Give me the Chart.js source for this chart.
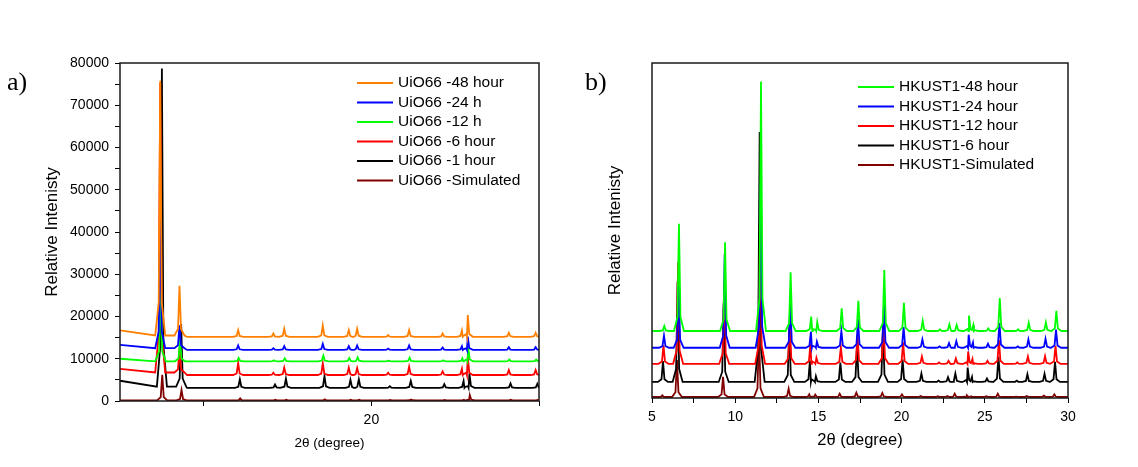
<!DOCTYPE html>
<html lang="en">
<head>
<meta charset="utf-8">
<title>XRD patterns: UiO66 and HKUST1</title>
<script src="https://cdn.jsdelivr.net/npm/chart.js"></script>
<style>
  body { margin: 0; background: #fff; width: 1138px; height: 467px; position: relative; overflow: hidden; }
  .panel { position: absolute; top: 0; height: 467px; }
  #wrapA { left: 0; width: 560px; }
  #wrapB { left: 560px; width: 578px; }
  .tag { position: absolute; font-family: "Liberation Serif", "Times New Roman", serif; font-size: 26px; color: #000; }
</style>
</head>
<body>
<div class="panel" id="wrapA"><canvas id="chartA"></canvas></div>
<div class="panel" id="wrapB"><canvas id="chartB"></canvas></div>
<div class="tag" style="left:7px;top:67px">a)</div>
<div class="tag" style="left:585px;top:67px">b)</div>

<script>
// ---------- panel a) UiO66 ----------
const uioLabels = ['UiO66 -48 hour', 'UiO66 -24 h', 'UiO66 -12 h', 'UiO66 -6 hour', 'UiO66 -1 hour', 'UiO66 -Simulated'];
const uioColors = ['#ff8000', '#0000ff', '#00ff00', '#ff0000', '#000000', '#800000'];
// peak positions (2theta, degree)
const uioPeaks = [7.4, 8.55, 12.05, 14.15, 14.8, 17.1, 18.65, 19.15, 21.0, 22.25, 24.25, 25.4, 25.75, 28.2, 29.8];
// small offset of each pattern along 2theta
const uioShift = [0, 0, 0.03, 0, 0.1, 0.12];
// baseline points [2theta, counts]
const uioBase48 = [[5, 16700], [7.1, 15500], [9, 15200], [30, 15200]];
const uioBase24 = [[5, 13300], [7.1, 12500], [9, 12100], [30, 12100]];
const uioBase12 = [[5, 10000], [7.1, 9400], [9, 9400], [30, 9400]];
const uioBase6 = [[5, 7600], [7.1, 6750], [9, 6150], [30, 6150]];
const uioBase1 = [[5, 4800], [7.2, 3400], [9, 3100], [30, 3100]];
const uioBaseSim = [[5, 150], [30, 150]];
// peak heights above baseline (counts)
const uioH48 = [60300, 11800, 1580, 790, 1900, 2680, 1580, 1900, 400, 1580, 790, 1500, 5130, 950, 950];
const uioH24 = [30300, 5400, 1030, 400, 870, 1420, 870, 1030, 300, 1030, 550, 870, 3160, 630, 630];
const uioH12 = [18600, 5100, 790, 240, 710, 1340, 790, 950, 160, 870, 240, 710, 3240, 400, 400];
const uioH6 = [68500, 5800, 2840, 550, 1740, 2760, 1740, 1660, 550, 1970, 870, 1500, 4340, 1180, 1180];
const uioH1 = [75300, 14800, 2050, 790, 2210, 2760, 1900, 2050, 400, 1660, 870, 1660, 3390, 1030, 950];
const uioHSim = [6050, 2450, 470, 150, 150, 250, 150, 150, 100, 200, 100, 150, 1260, 160, 100];

// ---------- panel b) HKUST1 ----------
const hkLabels = ['HKUST1-48 hour', 'HKUST1-24 hour', 'HKUST1-12 hour', 'HKUST1-6 hour', 'HKUST1-Simulated'];
const hkColors = ['#00ff00', '#0000ff', '#ff0000', '#000000', '#800000'];
const hkPeaks = [5.74, 6.62, 9.39, 11.55, 13.33, 14.57, 14.93, 16.4, 17.4, 18.96, 20.14, 21.27, 22.3, 22.87, 23.31, 24.05, 24.31, 25.21, 25.9, 27.0, 27.64, 28.67, 29.3];
const hkShift = [0, -0.02, -0.05, -0.08, -0.12];
// baselines (relative units)
const hkBase48 = [[5, 20], [30, 20]];
const hkBase24 = [[5, 15], [30, 15]];
const hkBase12 = [[5, 10.2], [30, 10.2]];
const hkBase6 = [[5, 4.8], [30, 4.8]];
const hkBaseSim = [[5, 0.3], [30, 0.3]];
const hkH48 = [1.5, 32, 26.5, 74.5, 17.5, 4.3, 2.7, 6.8, 9.0, 18.2, 8.4, 3.0, 0.5, 2.0, 1.8, 4.6, 1.8, 0.8, 9.8, 0.5, 2.5, 2.6, 6.0];
const hkH24 = [3.6, 18.5, 28, 49, 13.8, 4.8, 1.8, 5.0, 8.5, 13.0, 6.2, 2.5, 0.4, 1.4, 2.0, 3.9, 1.6, 1.2, 7.4, 0.4, 2.5, 2.7, 5.4];
const hkH12 = [5.5, 30.5, 24, 42, 13, 6, 1.8, 5, 8.6, 13.5, 6.4, 2.2, 0.4, 0.9, 1.6, 3.7, 1.5, 0.9, 7.1, 0.4, 2.2, 2.3, 5.4];
const hkH6 = [6.2, 30, 23.5, 74.6, 16, 6.3, 1.7, 5.8, 11, 17, 6.7, 2.5, 0.4, 1.4, 2.5, 4.3, 1.5, 1.0, 7.6, 0.4, 2.3, 2.4, 6.0];
const hkHSim = [0.5, 11, 6, 20, 2.5, 0.8, 0.7, 1.0, 1.3, 1.2, 0.8, 0.3, 0.2, 0.3, 1.0, 0.5, 0.2, 0.2, 1.0, 0.1, 0.3, 0.4, 0.8];

const FONT = '"Liberation Sans", Arial, sans-serif';

// baseline points plus one narrow profile per peak
function buildPattern(base, peaks, shift, heights, hw) {
    const pts = base.map(b => ({x: b[0], y: b[1]}));
    peaks.forEach((p, i) => {
        const x = p + shift;
        let y0 = base[0][1];
        base.forEach(b => { if (b[0] <= x) y0 = b[1]; });
        const h = heights[i];
        pts.push({x: x - hw, y: y0});
        pts.push({x: x - hw * 0.3, y: y0 + h * 0.13});
        pts.push({x: x, y: y0 + h});
        pts.push({x: x + hw * 0.3, y: y0 + h * 0.13});
        pts.push({x: x + hw, y: y0});
    });
    return pts.sort((a, b) => a.x - b.x);
}

function makeSets(labels, colors, bases, heights, peaks, shifts, hw) {
    return labels.map((lab, i) => ({
        label: lab,
        data: buildPattern(bases[i], peaks, shifts[i], heights[i], hw),
        borderColor: colors[i],
        borderWidth: 1.8,
        pointRadius: 0,
        tension: 0,
        fill: false
    }));
}

// legend inside the plot and the closed frame
const framePlugin = {
    id: 'frameLegend',
    afterDatasetsDraw(chart, args, opts) {
        const ctx = chart.ctx;
        const a = chart.chartArea;
        ctx.save();
        ctx.strokeStyle = '#1a1a1a';
        ctx.lineWidth = 1.5;
        ctx.strokeRect(a.left, a.top, a.right - a.left, a.bottom - a.top);
        ctx.font = '15.5px ' + FONT;
        ctx.textBaseline = 'middle';
        chart.data.datasets.forEach((ds, i) => {
            const y = opts.y + i * opts.step;
            ctx.strokeStyle = ds.borderColor;
            ctx.lineWidth = 2;
            ctx.beginPath();
            ctx.moveTo(opts.x, y);
            ctx.lineTo(opts.x + 36, y);
            ctx.stroke();
            ctx.fillStyle = '#000';
            ctx.fillText(ds.label, opts.x + 41, y);
        });
        ctx.restore();
    }
};

Chart.defaults.font.family = FONT;
Chart.defaults.color = '#000';
Chart.defaults.animation = false;

const tickGrid = {drawOnChartArea: false, drawTicks: true, tickLength: 5, color: '#000', lineWidth: 1};

new Chart(document.getElementById('chartA'), {
    type: 'line',
    data: {
        datasets: makeSets(uioLabels, uioColors,
            [uioBase48, uioBase24, uioBase12, uioBase6, uioBase1, uioBaseSim],
            [uioH48, uioH24, uioH12, uioH6, uioH1, uioHSim],
            uioPeaks, uioShift, 0.3)
    },
    options: {
        responsive: true,
        maintainAspectRatio: false,
        layout: {padding: {top: 63, right: 21, left: 0, bottom: 0}},
        plugins: {
            legend: {display: false},
            tooltip: {enabled: false},
            frameLegend: {x: 357, y: 83, step: 19.5}
        },
        scales: {
            x: {
                type: 'linear', min: 5, max: 30,
                afterBuildTicks: ax => { ax.ticks = [10, 20, 30].map(v => ({value: v})); },
                ticks: {font: {size: 14}, padding: 6, maxRotation: 0,
                    callback: v => v === 20 ? '20' : ''},
                grid: tickGrid,
                border: {display: false},
                title: {display: true, text: '2θ (degree)', font: {size: 13.5}, padding: {top: 0, bottom: 16}},
                afterFit: ax => { ax.height = 66; }
            },
            y: {
                min: 0, max: 80000,
                ticks: {stepSize: 5000, font: {size: 14}, padding: 6,
                    callback: v => v % 10000 === 0 ? String(v) : ''},
                grid: tickGrid,
                border: {display: false},
                title: {display: true, text: 'Relative Intenisty', font: {size: 17}, padding: {top: 42, bottom: 0}},
                afterFit: ax => { ax.width = 120; }
            }
        }
    },
    plugins: [framePlugin]
});

new Chart(document.getElementById('chartB'), {
    type: 'line',
    data: {
        datasets: makeSets(hkLabels, hkColors,
            [hkBase48, hkBase24, hkBase12, hkBase6, hkBaseSim],
            [hkH48, hkH24, hkH12, hkH6, hkHSim],
            hkPeaks, hkShift, 0.3)
    },
    options: {
        responsive: true,
        maintainAspectRatio: false,
        layout: {padding: {top: 63, right: 70, left: 0, bottom: 0}},
        plugins: {
            legend: {display: false},
            tooltip: {enabled: false},
            frameLegend: {x: 298, y: 87, step: 19.5}
        },
        scales: {
            x: {
                type: 'linear', min: 5, max: 30,
                ticks: {stepSize: 2.5, font: {size: 14}, padding: 6, maxRotation: 0, autoSkip: false,
                    callback: v => v % 5 === 0 ? String(v) : ''},
                grid: tickGrid,
                border: {display: false},
                title: {display: true, text: '2θ (degree)', font: {size: 16.5}, padding: {top: 0, bottom: 17}},
                afterFit: ax => { ax.height = 69; }
            },
            y: {
                min: 0, max: 100,
                ticks: {display: false},
                grid: {display: false},
                border: {display: false},
                title: {display: true, text: 'Relative Intenisty', font: {size: 17}, padding: {top: 45, bottom: 0}},
                afterFit: ax => { ax.width = 92; }
            }
        }
    },
    plugins: [framePlugin]
});
</script>
</body>
</html>
